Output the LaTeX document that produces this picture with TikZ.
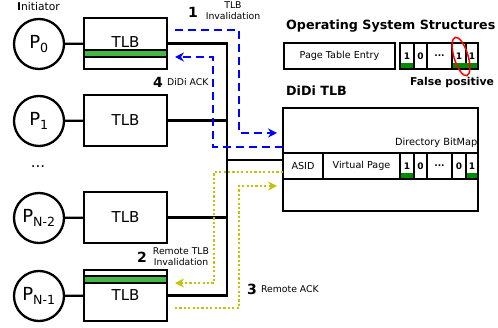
\documentclass[tikz,border=0pt]{standalone}
\usepackage{fontspec}
\setmainfont{DejaVu Sans}
\usetikzlibrary{arrows.meta,calc}
\definecolor{tlbgreen}{RGB}{68,184,68}
\definecolor{bitgreen}{RGB}{0,140,0}
\definecolor{myolive}{RGB}{195,195,10}
\begin{document}
\begin{tikzpicture}[x=1pt,y=-1pt,line width=2.3pt,
  proc/.style={circle,draw,minimum size=50pt,inner sep=0pt,font=\fontsize{18}{20}\selectfont},
  tlbbox/.style={draw,minimum width=83pt,minimum height=51pt,inner sep=0pt},
  tlbtext/.style={inner sep=0pt,font=\fontsize{15}{17}\selectfont},
  cell/.style={draw,line width=1.8pt,minimum height=26pt,inner sep=0pt,font=\fontsize{9.6}{11}\selectfont},
  bitcell/.style={cell,font=\fontsize{9}{11}\selectfont\bfseries},
  small/.style={inner sep=0pt,font=\fontsize{9.3}{11}\selectfont,align=center},
  num/.style={inner sep=0pt,font=\fontsize{14}{16}\selectfont\bfseries},
  heading/.style={inner sep=0pt,anchor=west,font=\fontsize{12.7}{14}\selectfont\bfseries},
  bluearr/.style={blue,line width=2.4pt,dash pattern=on 8pt off 5pt,-{Stealth[length=9pt,width=9pt]}},
  olivearr/.style={myolive,line width=2.4pt,dash pattern=on 2.2pt off 2.2pt,-{Stealth[length=9pt,width=9pt]}},
  gbar/.style={draw,line width=1.6pt,fill=tlbgreen},
  bbar/.style={fill=bitgreen}]
\useasboundingbox (0,0) rectangle (498,328);

% processors
\node[inner sep=0pt,font=\fontsize{10.7}{12}\selectfont] (init) at (38.5,7) {\textbf{I}nitiator};
\node[proc] (p0) at (39,44) {P\textsubscript{0}};
\node[proc] (p1) at (39,121) {P\textsubscript{1}};
\node[inner sep=0pt,font=\fontsize{15}{17}\selectfont] (dots) at (38,167) {...};
\node[proc] (pn2) at (39,218) {P\textsubscript{N-2}};
\node[proc] (pn1) at (39,296) {P\textsubscript{N-1}};

% TLBs
\node[tlbbox] (t0) at (125.5,43.5) {};
\node[tlbbox] (t1) at (125.5,120.5) {};
\node[tlbbox] (tn2) at (125.5,217.5) {};
\node[tlbbox] (tn1) at (125.5,295.5) {};
\draw[gbar] (84,50) rectangle (167,57);
\draw[gbar] (84,276) rectangle (167,283);
\node[tlbtext] (l0) at (125.5,42.5) {TLB};
\node[tlbtext] (l1) at (125.5,120.5) {TLB};
\node[tlbtext] (ln2) at (125.5,217.5) {TLB};
\node[tlbtext] (ln1) at (125.5,295.5) {TLB};

\draw (p0) -- (t0);
\draw (p1) -- (t1);
\draw (pn2) -- (tn2);
\draw (pn1) -- (tn1);

% bus
\coordinate (b0) at (227,43.5);
\coordinate (bn1) at (227,295.5);
\coordinate (bd) at (227,160);
\draw (t0.east) -- (b0) -- (bn1) -- (tn1.east);
\draw (t1.east) -- (t1.east -| b0);
\draw (tn2.east) -- (tn2.east -| b0);

% DiDi TLB
\node[draw,minimum width=195pt,minimum height=103pt,inner sep=0pt] (didi) at (380.5,159.5) {};
\draw (bd) -- (bd -| didi.west);
\node[cell,minimum width=40pt] (asid) at (303,166) {ASID};
\node[cell,minimum width=77pt] (vp) at (361.5,166) {Virtual Page};
\node[bitcell,minimum width=14pt] (d1) at (407,166) {1};
\node[bitcell,minimum width=13pt] (d2) at (420.5,166) {0};
\node[bitcell,minimum width=25pt] (d3) at (439.5,166) {...};
\node[bitcell,minimum width=14pt] (d4) at (459,166) {0};
\node[bitcell,minimum width=12pt] (d5) at (472,166) {1};
\fill[bbar] (400.9,173) rectangle (413.1,178.1);
\fill[bbar] (466.9,173) rectangle (477.1,178.1);
\node[small,anchor=east,font=\fontsize{9.8}{11}\selectfont] (dbm) at (478.5,143) {Directory BitMap};

% OS structures
\node[heading] (os) at (285,26) {Operating System Structures};
\node[cell,minimum width=111pt] (pte) at (339.5,56) {Page Table Entry};
\node[bitcell,minimum width=14pt] (e1) at (407,56) {1};
\node[bitcell,minimum width=13pt] (e2) at (420.5,56) {0};
\node[bitcell,minimum width=25pt] (e3) at (439.5,56) {...};
\node[bitcell,minimum width=14pt] (e4) at (459,56) {1};
\node[bitcell,minimum width=12pt] (e5) at (472,56) {1};
\fill[bbar] (400.9,63) rectangle (413.1,68.1);
\fill[bbar] (452.9,63) rectangle (477.1,68.1);
\draw[red,line width=1.5pt,rotate around={17:(461,56.5)}] (461,56.5) ellipse [x radius=7pt,y radius=20pt];
\node[inner sep=0pt,font=\fontsize{10.8}{12}\selectfont\bfseries] (fp) at (452,83) {False positive};
\node[heading] (dt) at (285,91) {DiDi TLB};

% labels
\node[num] (n1) at (193,12) {1};
\node[small] (lab1) at (233,11) {TLB\\Invalidation};
\node[num] (n4) at (158,82) {4};
\node[small,anchor=west] (lab4) at (166,82) {DiDi ACK};
\node[num] (n2) at (142,257) {2};
\node[small] (lab2) at (181,257) {Remote TLB\\Invalidation};
\node[num] (n3) at (252,289) {3};
\node[small,anchor=west] (lab3) at (260,289) {Remote ACK};

% arrows
\coordinate (a1s) at (175,30);
\coordinate (a1e) at (277,133);
\draw[bluearr] (a1s) -- (239,30) -- (239,133) -- (a1e);
\coordinate (a4s) at (283,147);
\coordinate (a4e) at (175,57);
\draw[bluearr] (a4s) -- (213,147) -- (213,57) -- (a4e);
\coordinate (a2s) at (283,172);
\coordinate (a2e) at (175,283);
\draw[olivearr] (a2s) -- (214,172) -- (214,283) -- (a2e);
\coordinate (a3s) at (175,308);
\coordinate (a3e) at (277,186);
\draw[olivearr] (a3s) -- (239,308) -- (239,186) -- (a3e);
\end{tikzpicture}
\end{document}
